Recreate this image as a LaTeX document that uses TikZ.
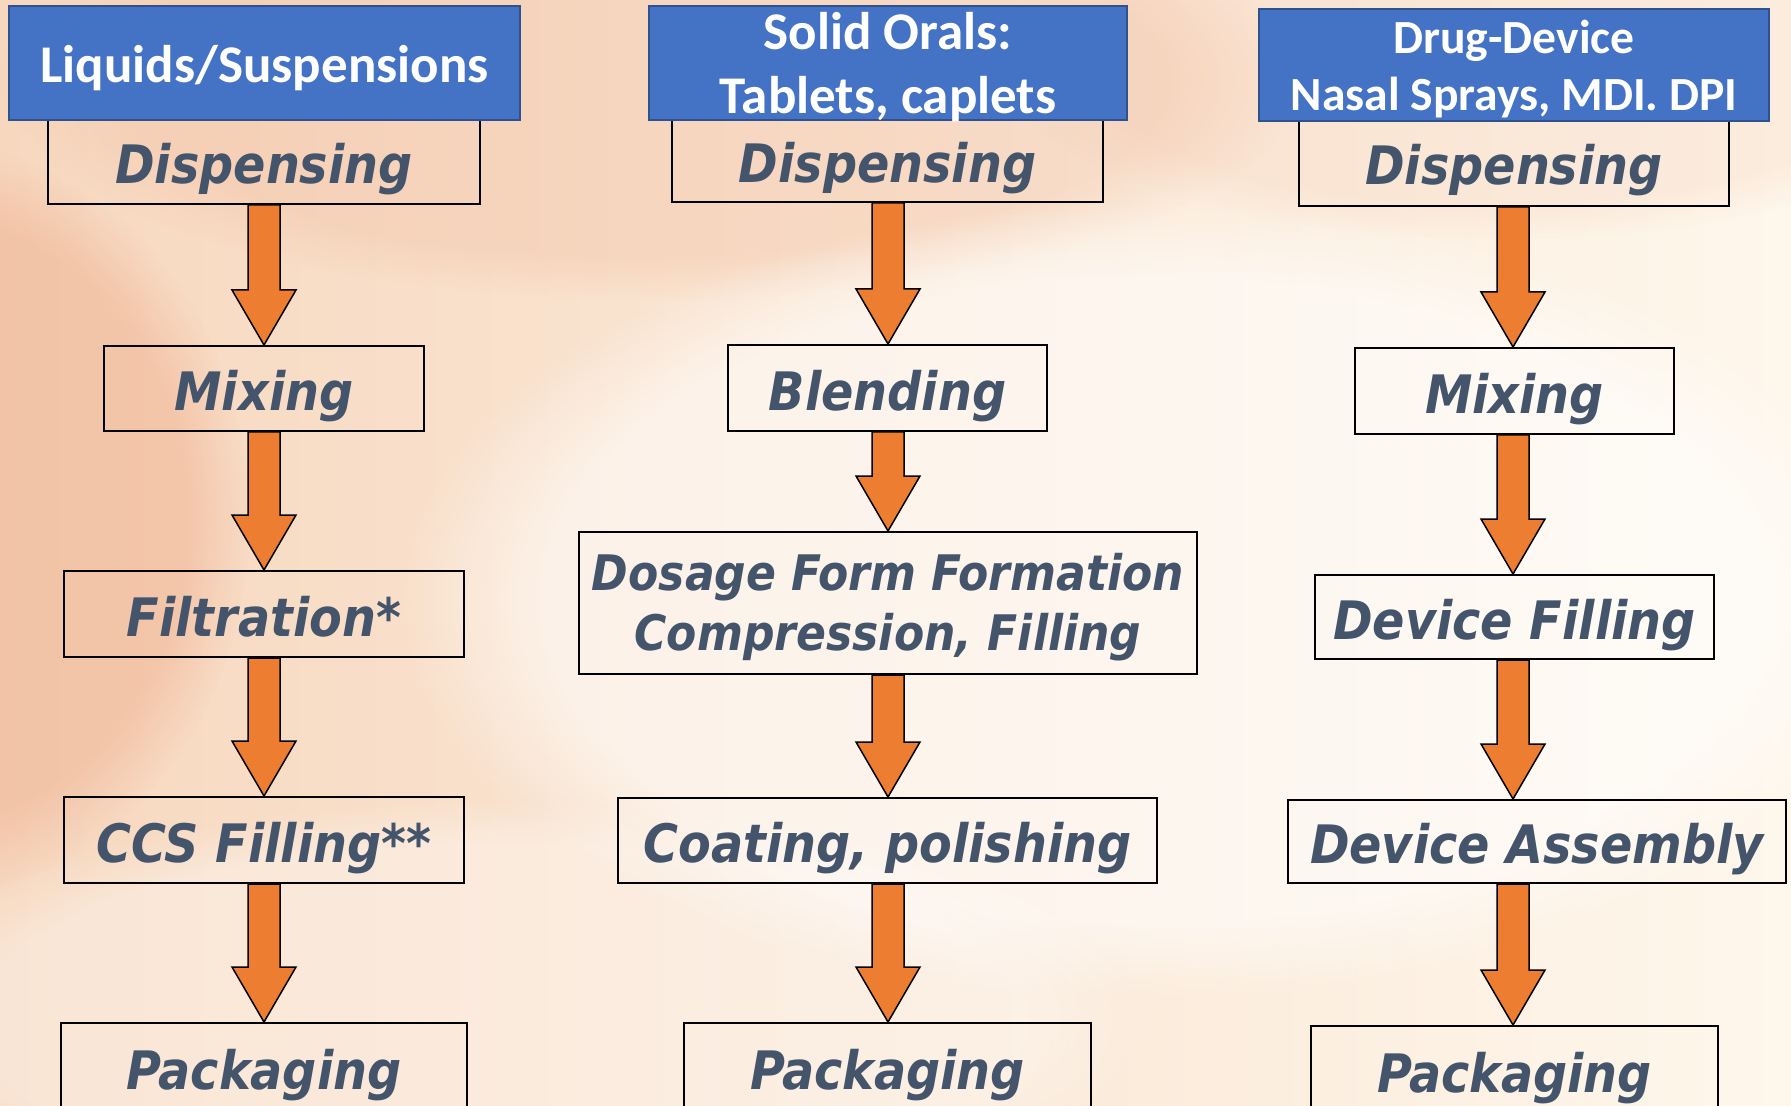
\documentclass[tikz,border=0pt]{standalone}
\usepackage{fontspec}
\usetikzlibrary{calc,fadings}
\setmainfont{Carlito}
\newfontfamily\hdrfont{Carlito}
\newfontfamily\boxfont{DejaVu Sans}[FakeStretch=0.9]
\definecolor{hdrblue}{HTML}{4472C4}
\definecolor{hdrborder}{HTML}{2F528F}
\definecolor{slatetext}{HTML}{44546A}
\definecolor{flowfill}{HTML}{ED7D31}
\definecolor{bgleft}{HTML}{F7D8BF}
\definecolor{bgmid}{HTML}{FCEEE1}
\definecolor{bgright}{HTML}{FEF7EC}
\definecolor{bgpeach}{HTML}{EFB090}
\tikzset{
  procbase/.style={draw=black, line width=1pt, inner sep=0pt, align=center,
    text=slatetext, font=\boxfont\bfseries\itshape\fontsize{26.5}{32}\selectfont},
  procnode/.style={procbase, text height=22.3pt, text depth=0pt},
  hdrnode/.style={draw=hdrborder, fill=hdrblue, line width=1pt, inner sep=0pt,
    align=center, text=white},
  flowarr/.style={draw=black, fill=flowfill, line width=0.75pt, line join=miter}
}
\newcommand\lowered[2]{\raisebox{-#1}[\height][\depth]{#2}}
\newcommand\procbox[7][procnode]{%
  \node[#1, minimum width={(#5-#3)*0.5pt}, minimum height={(#6-#4)*0.5pt}]
    (#2) at ({(#3+#5)/2},{(#4+#6)/2}) {#7};}
\newcommand\hdrbox[7]{%
  \node[hdrnode, font=#7, minimum width={(#4-#2)*0.5pt}, minimum height={(#5-#3)*0.5pt}]
    (#1) at ({(#2+#4)/2},{(#3+#5)/2}) {#6};}
\newcommand\flowarrow[3]{%
  \draw[flowarr] let \p1=(#1), \p2=(#2.south), \p3=(#3.north) in
    (\x1-8pt,\y2) -- (\x1+8pt,\y2) -- (\x1+8pt,\y3+27.5pt) -- (\x1+16pt,\y3+27.5pt)
    -- (\x1,\y3) -- (\x1-16pt,\y3+27.5pt) -- (\x1-8pt,\y3+27.5pt) -- cycle;}
\begin{document}
\begin{tikzpicture}[x=0.5pt,y=-0.5pt]
\useasboundingbox (0,0) rectangle (1791,1106);
\clip (0,0) rectangle (1791,1106);
% background
\shade[left color=bgleft, middle color=bgmid, right color=bgright, shading angle=90] (0,0) rectangle (1791,1106);
\fill[bgpeach, opacity=0.5, path fading=circle with fuzzy edge 20 percent] (-80,520) ellipse [x radius=330, y radius=380];
\fill[bgpeach, opacity=0.25, path fading=circle with fuzzy edge 20 percent] (650,80) ellipse [x radius=650, y radius=220];
\fill[bgpeach, opacity=0.15, path fading=circle with fuzzy edge 20 percent] (1500,60) ellipse [x radius=500, y radius=180];
\fill[white, opacity=0.55, path fading=circle with fuzzy edge 20 percent] (1150,600) ellipse [x radius=750, y radius=400];
\fill[white, opacity=0.35, path fading=circle with fuzzy edge 20 percent] (500,1020) ellipse [x radius=650, y radius=220];
% column axes
\coordinate (colA) at (264,0);
\coordinate (colB) at (888,0);
\coordinate (colC) at (1513,0);
% column 1
\procbox{d1}{48}{118}{480}{204}{Dispensing}
\procbox{m1}{104}{346}{424}{431}{Mixing}
\procbox{f1}{64}{571}{464}{657}{Filtration*}
\procbox{c1}{64}{797}{464}{883}{CCS Filling**}
\procbox{p1}{61}{1023}{467}{1112}{Packaging}
% column 2
\procbox{d2}{672}{118}{1103}{202}{Dispensing}
\procbox{b2}{728}{345}{1047}{431}{Blending}
\procbox[procbase, font=\boxfont\bfseries\itshape\fontsize{24.5}{30}\selectfont]{f2}{579}{532}{1197}{674}{\lowered{2pt}{Dosage Form Formation}\\\lowered{2pt}{Compression, Filling}}
\procbox{c2}{618}{798}{1157}{883}{Coating, polishing}
\procbox{p2}{684}{1023}{1091}{1112}{Packaging}
% column 3
\procbox{d3}{1299}{119}{1729}{206}{Dispensing}
\procbox{m3}{1355}{348}{1674}{434}{Mixing}
\procbox{f3}{1315}{575}{1714}{659}{Device Filling}
\procbox{a3}{1288}{800}{1786}{883}{Device Assembly}
\procbox{p3}{1311}{1026}{1718}{1115}{Packaging}
% arrows
\flowarrow{colA}{d1}{m1}
\flowarrow{colA}{m1}{f1}
\flowarrow{colA}{f1}{c1}
\flowarrow{colA}{c1}{p1}
\flowarrow{colB}{d2}{b2}
\flowarrow{colB}{b2}{f2}
\flowarrow{colB}{f2}{c2}
\flowarrow{colB}{c2}{p2}
\flowarrow{colC}{d3}{m3}
\flowarrow{colC}{m3}{f3}
\flowarrow{colC}{f3}{a3}
\flowarrow{colC}{a3}{p3}
% headers
\hdrbox{h1}{9}{6}{520}{120}{\lowered{2.5pt}{Liquids/Suspensions}}{\hdrfont\bfseries\fontsize{26.5}{32}\selectfont}
\hdrbox{h2}{649}{6}{1127}{120}{\lowered{2pt}{Solid Orals:}\\\lowered{2pt}{Tablets, caplets}}{\hdrfont\bfseries\fontsize{26.5}{32}\selectfont}
\hdrbox{h3}{1259}{9}{1769}{121}{\lowered{2pt}{Drug-Device}\\\lowered{2pt}{Nasal Sprays, MDI. DPI}}{\hdrfont\bfseries\fontsize{23.8}{28.5}\selectfont}
\end{tikzpicture}
\end{document}
